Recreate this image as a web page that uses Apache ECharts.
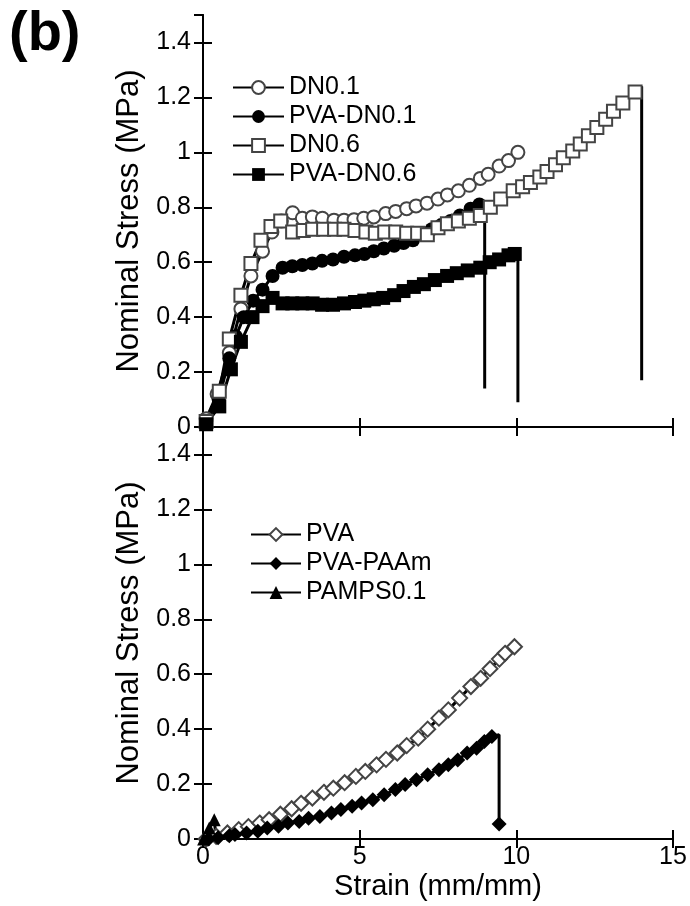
<!DOCTYPE html>
<html>
<head>
<meta charset="utf-8">
<script src="https://cdn.jsdelivr.net/npm/echarts@6/dist/echarts.min.js"></script>
<style>
html,body{margin:0;padding:0;background:#fff;}
#chart{width:690px;height:906px;}
</style>
</head>
<body>
<div id="chart"></div>
<script>
// ---------- data ----------
const dn01X = [0.1,0.45,0.84,1.21,1.53,1.9,2.2,2.5,2.86,3.17,3.49,3.81,4.18,4.5,4.82,5.13,5.45,5.83,6.15,6.5,6.8,7.15,7.5,7.8,8.15,8.5,8.85,9.1,9.45,9.75,10.05];
const dn01Y = [0.03,0.12,0.27,0.43,0.55,0.64,0.71,0.75,0.78,0.76,0.765,0.76,0.753,0.753,0.755,0.76,0.765,0.777,0.785,0.795,0.805,0.815,0.83,0.845,0.86,0.88,0.905,0.92,0.95,0.97,1.0];

const pvaDn01X = [0.1,0.5,0.84,1.05,1.3,1.6,1.9,2.22,2.54,2.85,3.17,3.49,3.8,4.15,4.5,4.85,5.15,5.45,5.77,6.1,6.4,6.7,7.0,7.3,7.6,7.9,8.2,8.54,8.82];
const pvaDn01Y = [0.02,0.1,0.25,0.33,0.4,0.46,0.5,0.55,0.58,0.585,0.59,0.595,0.605,0.61,0.62,0.625,0.63,0.64,0.65,0.66,0.67,0.68,0.7,0.72,0.735,0.75,0.77,0.795,0.81];
const pvaDn01BreakX = [8.99,8.99];
const pvaDn01BreakY = [0.81,0.14];

const dn06X = [0.1,0.52,0.84,1.21,1.53,1.85,2.17,2.48,2.86,3.2,3.5,3.85,4.2,4.5,4.85,5.2,5.5,5.8,6.15,6.5,6.85,7.16,7.5,7.8,8.15,8.5,8.85,9.17,9.5,9.9,10.2,10.45,10.75,10.98,11.25,11.5,11.8,12.04,12.3,12.57,12.85,13.1,13.4,13.79];
const dn06Y = [0.02,0.13,0.32,0.48,0.595,0.68,0.73,0.75,0.71,0.715,0.72,0.72,0.72,0.72,0.715,0.71,0.705,0.71,0.71,0.705,0.705,0.7,0.725,0.74,0.75,0.76,0.77,0.8,0.83,0.86,0.875,0.89,0.91,0.93,0.955,0.98,1.005,1.03,1.06,1.09,1.12,1.15,1.18,1.22];
const dn06BreakX = [14.0,14.0];
const dn06BreakY = [1.24,0.17];

const pvaDn06X = [0.1,0.52,0.89,1.21,1.58,1.9,2.22,2.54,2.85,3.17,3.5,3.8,4.15,4.5,4.85,5.15,5.45,5.75,6.1,6.4,6.73,7.05,7.4,7.79,8.1,8.45,8.85,9.15,9.45,9.75,9.95];
const pvaDn06Y = [0.01,0.075,0.21,0.31,0.4,0.44,0.47,0.45,0.45,0.45,0.45,0.445,0.445,0.45,0.455,0.46,0.465,0.47,0.48,0.495,0.51,0.52,0.535,0.55,0.56,0.57,0.58,0.6,0.61,0.625,0.63];
const pvaDn06BreakX = [10.05,10.05];
const pvaDn06BreakY = [0.64,0.09];

const pvaX = [0.1,0.42,0.78,1.14,1.45,1.81,2.11,2.47,2.83,3.13,3.49,3.86,4.16,4.52,4.88,5.18,5.54,5.84,6.2,6.5,6.87,7.17,7.53,7.83,8.19,8.55,8.86,9.16,9.46,9.64,9.94];
const pvaY = [0.0,0.01,0.022,0.034,0.045,0.058,0.07,0.09,0.11,0.13,0.149,0.17,0.185,0.205,0.228,0.246,0.27,0.29,0.313,0.34,0.367,0.4,0.44,0.47,0.513,0.555,0.585,0.62,0.655,0.676,0.7];

const pvaPaamX = [0.18,0.48,0.84,1.02,1.39,1.75,2.05,2.41,2.71,3.07,3.37,3.73,4.1,4.4,4.76,5.06,5.42,5.78,6.14,6.45,6.81,7.17,7.53,7.83,8.13,8.43,8.73,8.98,9.22];
const pvaPaamY = [0.0,0.005,0.012,0.016,0.022,0.028,0.04,0.046,0.058,0.064,0.076,0.082,0.095,0.107,0.119,0.131,0.143,0.161,0.18,0.198,0.216,0.234,0.252,0.27,0.288,0.313,0.33,0.355,0.373];
const pvaPaamBreakX = [9.45,9.45];
const pvaPaamBreakY = [0.38,0.055];

const pampsX = [0.02,0.2,0.36];
const pampsY = [0.0,0.04,0.07];
const pampsBreakX = [0.42];
const pampsBreakY = [0.0];

const yTitle = 'Nominal Stress (MPa)';
const xTitle = 'Strain (mm/mm)';
const topNames = ['DN0.1','PVA-DN0.1','DN0.6','PVA-DN0.6'];
const botNames = ['PVA','PVA-PAAm','PAMPS0.1'];

// ---------- helpers ----------
function pts(xs, ys){ return xs.map((x,i)=>[x, ys[i]]); }
function breakPts(xs, ys, lastSymbol){
  return xs.map((x,i)=>{
    const it = {value:[x, ys[i]]};
    if (!(lastSymbol && i === xs.length-1)) it.symbol = 'none';
    return it;
  });
}

const FONT = '"Liberation Sans", Arial, sans-serif';
const axisLineStyle = {show:true, lineStyle:{color:'#000', width:2}};

function xAx(gridIndex, position, showLabel, name){
  return {
    type:'value', gridIndex, position, min:0, max:15, interval:5,
    axisLine: axisLineStyle,
    axisTick:{show:true, inside:true, length:9, lineStyle:{color:'#000', width:2}},
    axisLabel:{show:showLabel, color:'#000', fontFamily:FONT, fontSize:25, margin:6},
    splitLine:{show:false},
    name: name || '', nameLocation:'middle', nameGap:33,
    nameTextStyle:{color:'#000', fontFamily:FONT, fontSize:29}
  };
}
function yAx(gridIndex, position, showLabel, name){
  return {
    type:'value', gridIndex, position, min:0, max:1.5, interval:0.2,
    axisLine: axisLineStyle,
    axisTick:{show:true, inside:true, length:9, lineStyle:{color:'#000', width:2}},
    axisLabel:{show:showLabel, showMaxLabel:false, color:'#000', fontFamily:FONT, fontSize:25, margin:12},
    splitLine:{show:false},
    name: name || '', nameLocation:'middle', nameGap:54,
    nameTextStyle:{color:'#000', fontFamily:FONT, fontSize:31}
  };
}

function ser(name, data, symbol, filled, xi, yi){
  let size = 13;
  if (symbol.indexOf('ect') >= 0) size = filled ? 14 : 13;
  if (symbol.indexOf('iamond') >= 0) size = 15;
  if (symbol === 'circle') size = 14;
  return {
    type:'line', name, data, xAxisIndex:xi, yAxisIndex:yi,
    symbol, symbolSize: size,
    showAllSymbol:true,
    lineStyle:{color:'#000', width:3},
    itemStyle: filled ? {color:'#000'} : {color:'#444', borderColor:'#444', borderWidth:1},
    emphasis:{disabled:true},
    animation:false
  };
}

const chart = echarts.init(document.getElementById('chart'), null, {renderer:'canvas'});
chart.setOption({
  backgroundColor:'#fff',
  animation:false,
  title:{text:'(b)', left:4, top:2, textStyle:{fontFamily:FONT, fontSize:56, fontWeight:'bold', color:'#000'}},
  grid:[
    {left:203, top:15, width:470, height:412},
    {left:203, top:427, width:470, height:412}
  ],
  xAxis:[
    xAx(0,'bottom',false),
    xAx(0,'top',false),
    xAx(1,'bottom',true,xTitle),
    xAx(1,'top',false)
  ],
  yAxis:[
    yAx(0,'left',true,yTitle),
    yAx(0,'right',false),
    yAx(1,'left',true,yTitle),
    yAx(1,'right',false)
  ],
  legend:[
    {data:topNames, orient:'vertical', left:232, top:75, padding:0, itemGap:4, itemWidth:51, itemHeight:16,
     textStyle:{fontFamily:FONT, fontSize:25, color:'#000'}},
    {data:botNames, orient:'vertical', left:250, top:522, padding:0, itemGap:4, itemWidth:50, itemHeight:16,
     textStyle:{fontFamily:FONT, fontSize:25, color:'#000'}}
  ],
  series:[
    ser('DN0.1', pts(dn01X, dn01Y), 'emptyCircle', false, 0, 0),
    ser('PVA-DN0.1', pts(pvaDn01X, pvaDn01Y).concat(breakPts(pvaDn01BreakX, pvaDn01BreakY, false)), 'circle', true, 0, 0),
    ser('DN0.6', pts(dn06X, dn06Y).concat(breakPts(dn06BreakX, dn06BreakY, false)), 'emptyRect', false, 0, 0),
    ser('PVA-DN0.6', pts(pvaDn06X, pvaDn06Y).concat(breakPts(pvaDn06BreakX, pvaDn06BreakY, false)), 'rect', true, 0, 0),
    ser('PVA', pts(pvaX, pvaY), 'emptyDiamond', false, 2, 2),
    ser('PVA-PAAm', pts(pvaPaamX, pvaPaamY).concat(breakPts(pvaPaamBreakX, pvaPaamBreakY, true)), 'diamond', true, 2, 2),
    ser('PAMPS0.1', pts(pampsX, pampsY).concat(breakPts(pampsBreakX, pampsBreakY, false)), 'triangle', true, 2, 2)
  ]
});
</script>
</body>
</html>
